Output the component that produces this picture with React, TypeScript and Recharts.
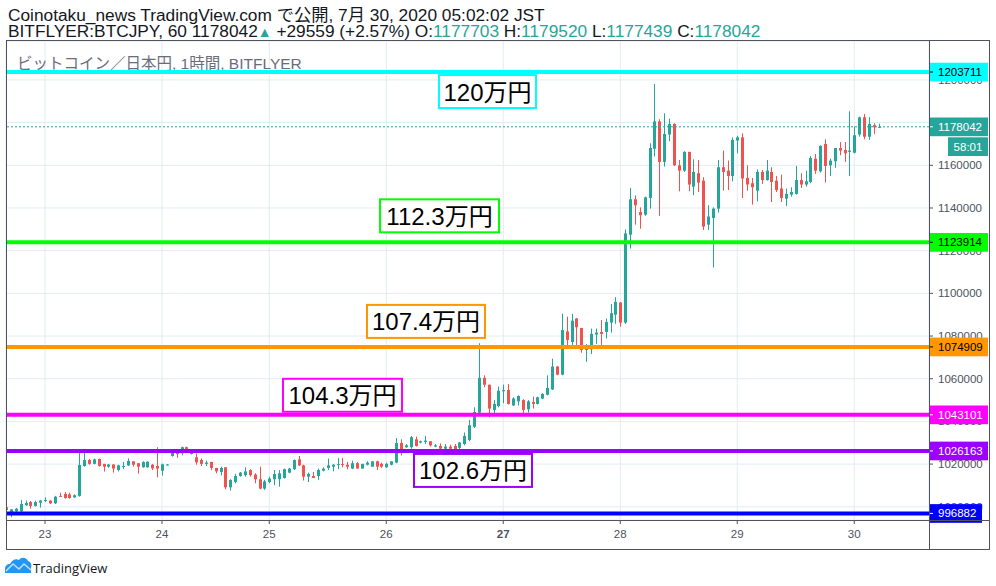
import React from 'react';
import { ComposedChart, Bar, XAxis, YAxis, CartesianGrid, ReferenceLine } from 'recharts';

// BITFLYER:BTCJPY hourly candles, 22 Jul 2020 ~15:00 -> 30 Jul 2020 04:00 JST
const OPEN = [
  999800, 997300, 997900, 997900, 1000700, 1002200, 1000400, 1001900, 1002700, 1002900,
  1001600, 1005100, 1006000, 1005800, 1004400, 1005100, 1019100, 1021900, 1020100, 1022400,
  1020100, 1018800, 1019800, 1017200, 1018800, 1019400, 1021300, 1020400, 1018500, 1018500,
  1019700, 1019100, 1016900, 1019600, 1023800, 1025400, 1025100, 1027900, 1024900, 1023200,
  1021900, 1020100, 1021000, 1018200, 1016300, 1018500, 1009100, 1011600, 1014400, 1014800,
  1017200, 1015100, 1012900, 1008500, 1011600, 1012900, 1012900, 1013500, 1016000, 1017600,
  1022200, 1019400, 1014100, 1014400, 1014400, 1016900, 1018200, 1018800, 1019700, 1020000,
  1019700, 1017900, 1020400, 1017900, 1019700, 1018800, 1021300, 1020100, 1018500, 1019700,
  1020700, 1029900, 1027900, 1027900, 1031600, 1030100, 1030400, 1030700, 1028200, 1028500,
  1027200, 1028200, 1028500, 1027600, 1029400, 1031300, 1037500, 1044100, 1060400, 1057200,
  1045400, 1047200, 1054100, 1054700, 1047500, 1049400, 1050000, 1045700, 1049100, 1048200,
  1050700, 1052500, 1055000, 1065700, 1061900, 1082200, 1077200, 1088200, 1083800, 1073500,
  1073800, 1080700, 1081900, 1081900, 1086300, 1090000, 1095700, 1086300, 1127500, 1144100,
  1138100, 1136900, 1144700, 1167800, 1180600, 1161600, 1174400, 1179400, 1160000, 1157500,
  1166300, 1150000, 1156300, 1152800, 1132200, 1135300, 1139700, 1159100, 1157500, 1155000,
  1171600, 1173100, 1154100, 1151600, 1148100, 1156900, 1153100, 1156900, 1152800, 1149100,
  1144400, 1146300, 1146600, 1153100, 1151000, 1152200, 1163100, 1157200, 1170000, 1160000,
  1161900, 1168100, 1167200, 1166300, 1165900, 1174400, 1182500, 1173400, 1178800, 1177703,
];
const HIGH = [
  1000000, 998900, 999400, 1003200, 1002900, 1002700, 1002900, 1003200, 1004400, 1003200,
  1005100, 1006600, 1006900, 1006600, 1005800, 1025400, 1025400, 1022400, 1022600, 1022600,
  1020100, 1020100, 1019900, 1019700, 1021000, 1022700, 1021300, 1020400, 1021300, 1021300,
  1020100, 1027900, 1020200, 1020000, 1025700, 1025400, 1028200, 1028200, 1026000, 1025000,
  1022600, 1021600, 1021000, 1018200, 1018800, 1018500, 1012900, 1015400, 1016300, 1018500,
  1017600, 1015700, 1018800, 1012600, 1014100, 1017200, 1017200, 1017900, 1018200, 1022200,
  1023800, 1019700, 1016000, 1016300, 1017900, 1018500, 1022600, 1020000, 1022900, 1022900,
  1021000, 1021600, 1021000, 1020100, 1021300, 1021300, 1021600, 1020700, 1020700, 1021300,
  1032200, 1031600, 1029400, 1033200, 1032900, 1031000, 1033200, 1030700, 1029400, 1029700,
  1029400, 1029100, 1029400, 1030400, 1034800, 1040700, 1046600, 1076600, 1061600, 1057200,
  1050000, 1056300, 1057200, 1057500, 1051300, 1052200, 1050400, 1050000, 1051600, 1051600,
  1053200, 1061600, 1069400, 1066000, 1090500, 1089100, 1090300, 1088500, 1083800, 1076300,
  1083500, 1083500, 1087500, 1088200, 1095000, 1098200, 1096000, 1130000, 1149400, 1145900,
  1140300, 1145300, 1170300, 1198100, 1181600, 1184400, 1181900, 1179700, 1162500, 1166600,
  1166300, 1162800, 1162500, 1154400, 1141300, 1140300, 1162500, 1166900, 1162200, 1173100,
  1173800, 1175000, 1160000, 1154100, 1158100, 1157800, 1162500, 1159100, 1155000, 1155600,
  1149100, 1149700, 1159700, 1156300, 1157500, 1164400, 1165300, 1169400, 1172200, 1163100,
  1168100, 1170900, 1170900, 1185300, 1178100, 1182800, 1184100, 1182500, 1179700, 1179520,
];
const LOW = [
  997800, 995100, 997600, 997500, 1000400, 999100, 1000100, 999600, 1002200, 1001300,
  1001300, 1004600, 1003800, 1003800, 1004100, 1004700, 1018800, 1019700, 1019900, 1018800,
  1016500, 1018300, 1016000, 1016600, 1017600, 1019100, 1018800, 1015500, 1018300, 1018300,
  1017200, 1013800, 1014600, 1019400, 1023500, 1022900, 1024100, 1026900, 1024500, 1019700,
  1019100, 1019100, 1017200, 1015700, 1014700, 1008200, 1007600, 1011000, 1014100, 1014100,
  1014100, 1011000, 1008200, 1007900, 1011000, 1010100, 1009400, 1013200, 1015700, 1017200,
  1019100, 1012300, 1011600, 1013500, 1012600, 1016600, 1017200, 1016600, 1017600, 1018500,
  1017600, 1017600, 1017900, 1017900, 1019400, 1018800, 1017200, 1018200, 1018200, 1019400,
  1020400, 1024000, 1027600, 1027200, 1028200, 1029700, 1029400, 1028200, 1027900, 1026900,
  1026900, 1026900, 1026600, 1026900, 1028800, 1030700, 1036900, 1043800, 1056000, 1041900,
  1043800, 1046600, 1048500, 1047900, 1047200, 1047500, 1044100, 1044100, 1046000, 1047900,
  1050400, 1052200, 1054700, 1061600, 1061600, 1075000, 1075000, 1075000, 1072200, 1067900,
  1071600, 1076300, 1075700, 1078800, 1081600, 1085700, 1084400, 1085700, 1121000, 1132200,
  1130300, 1136300, 1139700, 1164100, 1136300, 1159400, 1171300, 1159700, 1147800, 1156900,
  1147800, 1146000, 1147500, 1129700, 1129700, 1112100, 1137800, 1148100, 1148400, 1152500,
  1165600, 1144700, 1148100, 1141600, 1143100, 1151300, 1152800, 1142800, 1147500, 1142800,
  1141000, 1145300, 1146300, 1149400, 1150000, 1151600, 1156000, 1156600, 1151900, 1155000,
  1158800, 1164700, 1161600, 1155000, 1165600, 1173400, 1172200, 1171900, 1174700, 1177439,
];
const CLOSE = [
  998500, 998800, 999100, 1001300, 1001800, 1000400, 1002200, 1002900, 1003200, 1001600,
  1004700, 1004700, 1004100, 1004100, 1005400, 1019600, 1021900, 1020100, 1022200, 1019100,
  1018800, 1019800, 1017900, 1019400, 1019100, 1021500, 1019700, 1018800, 1021000, 1021100,
  1018000, 1017900, 1019900, 1019800, 1025400, 1024700, 1027900, 1027100, 1025200, 1020800,
  1020100, 1020700, 1018200, 1016600, 1018200, 1009100, 1012600, 1014400, 1016000, 1016600,
  1014800, 1012900, 1008500, 1011900, 1013200, 1015400, 1015700, 1017600, 1017900, 1021900,
  1019400, 1014100, 1015400, 1013500, 1017200, 1017900, 1019400, 1019700, 1020000, 1019700,
  1018800, 1020400, 1017900, 1020100, 1020700, 1021300, 1018800, 1018800, 1020100, 1021300,
  1029900, 1025800, 1028800, 1032600, 1028500, 1030700, 1031000, 1028800, 1028800, 1027200,
  1028200, 1027200, 1026900, 1030100, 1033200, 1038200, 1044400, 1060400, 1057200, 1046000,
  1048200, 1054400, 1054700, 1048200, 1050700, 1051900, 1045400, 1049400, 1048200, 1051300,
  1052900, 1055700, 1065700, 1061900, 1082800, 1078200, 1087200, 1084100, 1073500, 1074100,
  1081000, 1081600, 1081000, 1086600, 1090700, 1096000, 1086300, 1128100, 1144100, 1141300,
  1136600, 1145000, 1168100, 1180600, 1161600, 1174700, 1179400, 1160000, 1157500, 1166300,
  1151000, 1156900, 1151900, 1131300, 1136000, 1139700, 1159100, 1156900, 1155000, 1171900,
  1173100, 1153800, 1151000, 1149700, 1156900, 1153100, 1157500, 1152200, 1148400, 1144700,
  1146600, 1147500, 1153100, 1151000, 1152500, 1163400, 1157500, 1169100, 1159700, 1162200,
  1168100, 1166900, 1165600, 1166900, 1174100, 1182500, 1173400, 1179400, 1177800, 1178042,
];

const DAY_TICKS = [8, 32, 54, 78, 102, 126, 150, 174];
const DAY_LABELS = ['23', '24', '25', '26', '27', '28', '29', '30'];
const PRICE_TICKS = [
  1000000, 1020000, 1040000, 1060000, 1080000, 1100000,
  1120000, 1140000, 1160000, 1180000, 1200000,
];

// horizontal levels drawn by the author, with their notes
const LEVEL_PRICES = [1203711, 1123914, 1074909, 1043101, 1026163, 996882];
const LEVEL_NOTES = ['120万円', '112.3万円', '107.4万円', '104.3万円', '102.6万円', ''];

const LAST_PRICE = 1178042;
const COUNTDOWN = '58:01';

// look of each level: colour, tag text colour, note box placement
const LEVEL_LOOK = [
  { color: '#00ffff', text: '#000', tagW: 59, boxX: 438, boxW: 99, boxDy: 2 },
  { color: '#00ff00', text: '#000', tagW: 59, boxX: 379, boxW: 121, boxDy: -44 },
  { color: '#ff9800', text: '#000', tagW: 59, boxX: 366, boxW: 120, boxDy: -43 },
  { color: '#ff00ff', text: '#fff', tagW: 59, boxX: 282, boxW: 121, boxDy: -37 },
  { color: '#9c00ff', text: '#fff', tagW: 59, boxX: 413, boxW: 120, boxDy: 2 },
  { color: '#0000ff', text: '#fff', tagW: 53, boxX: 0, boxW: 0, boxDy: 0 },
];

const UP = '#26a69a';
const DOWN = '#ef5350';
const AXIS_TEXT = '#4c525e';
const FRAME = '#50535e';
const GRID = '#e1ecf2';
const X_DOMAIN = [0, 189.33];
const Y_DOMAIN = [993800, 1218250];
const MARGIN = { top: 41, left: 6, right: 7, bottom: 37 };

const candles = OPEN.map((o, i) => ({ i, open: o, high: HIGH[i], low: LOW[i], close: CLOSE[i] }));

const Candle = (props: any) => {
  const { x, y, width, height, payload } = props;
  const { open, high, low, close } = payload;
  const cx = Math.round(x + width / 2) + 0.5;
  const color = close >= open ? UP : DOWN;
  const k = high === low ? 0 : height / (high - low);
  const top = y + (high - Math.max(open, close)) * k;
  const bot = y + (high - Math.min(open, close)) * k;
  return (
    <g>
      <line x1={cx} x2={cx} y1={y} y2={y + height} stroke={color} strokeWidth={1} />
      <rect x={cx - 1.5} y={top} width={3} height={Math.max(1, bot - top)} fill={color} />
    </g>
  );
};

const DayTick = (props: any) => {
  const { x, y, payload } = props;
  const label = DAY_LABELS[DAY_TICKS.indexOf(payload.value)];
  return (
    <text x={x} y={y} dy="0.71em" textAnchor="middle" fontSize={11.5} fill={AXIS_TEXT}
      fontWeight={label === '27' ? 700 : 400}>
      {label}
    </text>
  );
};

const levelLabel = (k: number) => (p: any) => {
  const vb = p.viewBox || {};
  const ly = vb.y;
  const ax = vb.x + vb.width;
  const look = LEVEL_LOOK[k];
  const note = LEVEL_NOTES[k];
  return (
    <g>
      <rect x={ax} y={ly - 9.3} width={look.tagW} height={18.7} fill={look.color} />
      <line x1={ax + 1} x2={ax + 4} y1={ly} y2={ly} stroke={look.text} />
      <text x={ax + 9} y={ly} dominantBaseline="central" fontSize={11.5} fill={look.text}>
        {LEVEL_PRICES[k]}
      </text>
      {note ? (
        <g>
          <rect x={look.boxX + 1} y={ly + look.boxDy + 1} width={look.boxW - 2} height={33}
            fill="#fff" stroke={look.color} strokeWidth={2} />
          <text x={look.boxX + look.boxW / 2} y={ly + look.boxDy + 18} textAnchor="middle"
            dominantBaseline="central" fontSize={24} fill="#000"
            fontFamily="'Liberation Sans', 'Noto Sans CJK JP', sans-serif">
            {note}
          </text>
        </g>
      ) : null}
    </g>
  );
};

const lastLabel = (p: any) => {
  const vb = p.viewBox || {};
  const ly = vb.y;
  const ax = vb.x + vb.width;
  return (
    <g>
      <rect x={ax} y={ly - 9.3} width={59} height={18.7} fill={UP} />
      <line x1={ax + 1} x2={ax + 4} y1={ly} y2={ly} stroke="#fff" />
      <text x={ax + 9} y={ly} dominantBaseline="central" fontSize={11.5} fill="#fff">{LAST_PRICE}</text>
      <rect x={ax + 19} y={ly + 10.5} width={40} height={18.7} fill={UP} />
      <text x={ax + 39} y={ly + 20} textAnchor="middle" dominantBaseline="central" fontSize={11.5} fill="#fff">
        {COUNTDOWN}
      </text>
    </g>
  );
};

const TvLogo = () => (
  <svg width={28} height={20} style={{ position: 'absolute', left: 4, top: 555 }}>
    <path d="M1,18 L1,14 C1,11 3,9 6,9 C8,5 12,3 15,5 C17,2 22,2 24,6 C27,7 28,10 27,13 L27,18 Z" fill="#2196f3" />
    <path d="M2,16 L9,9 L15,14 L20,9 L27,15" fill="none" stroke="#bbdefb" strokeWidth={1.6} />
  </svg>
);

const layer: React.CSSProperties = { position: 'absolute', left: 0, top: 0 };

export default function App() {
  return (
    <div style={{ position: 'absolute', left: 0, top: 0, width: 996, height: 586, background: '#fff',
      fontFamily: "'Liberation Sans', Arial, 'Noto Sans CJK JP', sans-serif", overflow: 'hidden' }}>
      <div style={{ position: 'absolute', left: 8, top: 5, fontSize: 17.3, lineHeight: '20px', color: '#131722', whiteSpace: 'nowrap' }}>
        Coinotaku_news TradingView.com で公開, 7月 30, 2020 05:02:02 JST
      </div>
      <div style={{ position: 'absolute', left: 8, top: 21, fontSize: 17.3, lineHeight: '20px', color: '#131722', whiteSpace: 'nowrap' }}>
        BITFLYER:BTCJPY, 60 1178042<span style={{ color: UP, fontSize: 14 }}>▲</span> +29559 (+2.57%) O:
        <span style={{ color: UP }}>1177703</span> H:<span style={{ color: UP }}>1179520</span> L:
        <span style={{ color: UP }}>1177439</span> C:<span style={{ color: UP }}>1178042</span>
      </div>

      {/* price pane: grid, scales and candles */}
      <div style={layer}>
        <ComposedChart width={996} height={586} data={candles} margin={MARGIN}>
          <CartesianGrid stroke={GRID} />
          <XAxis type="number" dataKey="i" domain={X_DOMAIN} allowDataOverflow ticks={DAY_TICKS}
            height={29} axisLine={false} tickSize={4} tickMargin={6} tickLine={{ stroke: FRAME }}
            tick={<DayTick />} interval={0} />
          <YAxis orientation="right" type="number" domain={Y_DOMAIN} allowDataOverflow
            ticks={PRICE_TICKS} width={60} axisLine={false} tickSize={4} tickMargin={5}
            tickLine={{ stroke: FRAME }} tick={{ fontSize: 11.5, fill: AXIS_TEXT }} interval={0} />
          <Bar dataKey={(d: any) => [d.low, d.high]} barSize={3} shape={<Candle />}
            isAnimationActive={false} />
        </ComposedChart>
      </div>

      <div style={{ position: 'absolute', left: 17, top: 51, fontSize: 15.5, color: '#6a6d78', whiteSpace: 'nowrap' }}>
        ビットコイン／日本円, 1時間, BITFLYER
      </div>

      {/* drawings layer: levels, notes and price-scale tags on top of the scale */}
      <div style={layer}>
        <ComposedChart width={996} height={586} data={candles} margin={MARGIN}>
          <XAxis type="number" dataKey="i" domain={X_DOMAIN} allowDataOverflow height={29}
            axisLine={false} tickLine={false} tick={false} />
          <YAxis orientation="right" type="number" domain={Y_DOMAIN} allowDataOverflow width={60}
            axisLine={false} tickLine={false} tick={false} />
          <ReferenceLine y={LAST_PRICE} stroke={UP} strokeDasharray="2 2" label={lastLabel} />
          {LEVEL_PRICES.map((p, k) => (
            <ReferenceLine key={p} y={p} stroke={LEVEL_LOOK[k].color} strokeWidth={4}
              label={levelLabel(k)} />
          ))}
        </ComposedChart>
      </div>

      {/* pane frame and scale separators */}
      <div style={{ position: 'absolute', left: 6, top: 40, width: 982, height: 508, border: `1px solid ${FRAME}`, pointerEvents: 'none' }} />
      <div style={{ position: 'absolute', left: 929, top: 40, width: 1, height: 509, background: FRAME }} />
      <div style={{ position: 'absolute', left: 6, top: 520, width: 983, height: 1, background: FRAME }} />

      <TvLogo />
      <div style={{ position: 'absolute', left: 33, top: 559, fontSize: 13, color: '#131722', fontFamily: "'Open Sans', sans-serif" }}>
        TradingView
      </div>
    </div>
  );
}
